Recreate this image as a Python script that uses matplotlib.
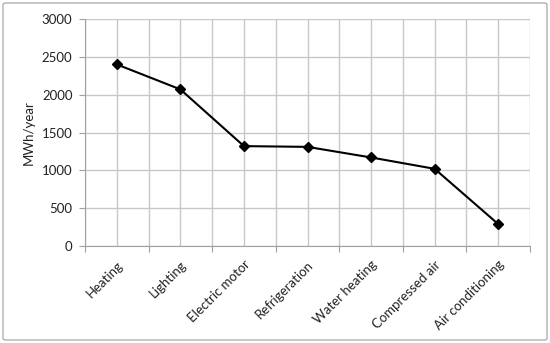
import matplotlib
matplotlib.use("Agg")
import matplotlib.pyplot as plt
from matplotlib.patches import FancyBboxPatch
import numpy as np

categories = ["Heating", "Lighting", "Electric motor", "Refrigeration",
              "Water heating", "Compressed air", "Air conditioning"]
values = [2400, 2070, 1320, 1310, 1170, 1020, 290]
yticks = [0, 500, 1000, 1500, 2000, 2500, 3000]

plt.rcParams['font.family'] = ['Lato', 'DejaVu Sans']

fig = plt.figure(figsize=(5.5, 3.43), dpi=100)
ax = fig.add_axes([85/550, 1-246/343, 445/550, 227/343])

x = np.arange(len(categories))
ax.plot(x, values, color='black', lw=1.5, marker='D', ms=5.5, zorder=3)

ax.set_xlim(-0.5, len(categories)-0.5)
ax.set_ylim(0, 3000)
ax.set_yticks(yticks)
ax.set_xticks(np.arange(len(categories)+1)-0.5)
ax.set_xticklabels([])
ax.set_xticks(x, minor=True)
ax.set_xticklabels(categories, minor=True, rotation=45, ha='right',
                   rotation_mode='anchor', fontsize=9.5, color='#222222')
ax.tick_params(axis='x', which='minor', length=0, pad=9)
ax.tick_params(axis='x', which='major', length=4, color='#a0a0a0')
ax.tick_params(axis='y', length=4, color='#a0a0a0', labelsize=9.5, pad=5,
               labelcolor='#222222')
ax.grid(True, which='both', axis='x', color='#c8c8c8', lw=1)
ax.grid(True, which='major', axis='y', color='#c8c8c8', lw=1)
ax.set_axisbelow(True)
for s in ['top', 'right']:
    ax.spines[s].set_visible(False)
for s in ['left', 'bottom']:
    ax.spines[s].set_color('#a0a0a0')
ax.set_ylabel("MWh/year", fontsize=9.5, labelpad=5, color='#222222')

border = FancyBboxPatch((3/550, 3/343), 544/550, 337/343,
                        boxstyle="round,pad=0,rounding_size=0.005",
                        transform=fig.transFigure, fill=False,
                        ec='#b0b0b0', lw=1)
fig.patches.append(border)

fig.savefig("out.png", dpi=100)
